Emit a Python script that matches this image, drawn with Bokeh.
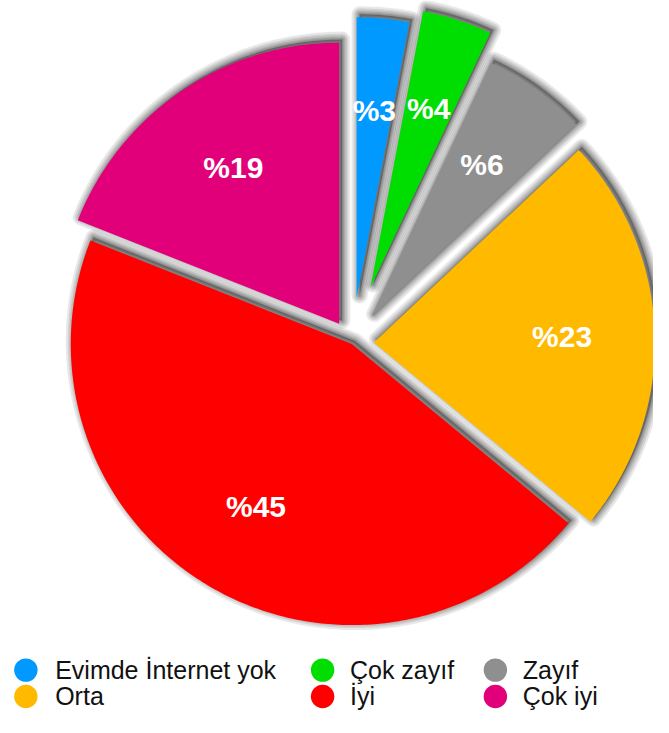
import math
from bokeh.plotting import figure
from bokeh.models import Range1d, ColumnDataSource
from bokeh.embed import file_html
from bokeh.resources import INLINE
from bokeh.core.properties import value

# ---- data ----
categories = ["Evimde İnternet yok", "Çok zayıf", "Zayıf", "Orta", "İyi", "Çok iyi"]
percent = [3, 4, 6, 23, 45, 19]
colors = ["#0099FF", "#00DD00", "#8F8F8F", "#FFBA00", "#FF0000", "#E2007A"]

# ---- style ----
W, H = 653, 717
S = min(W / 669.0, H / 733.0)          # layout scale
explode = [e * S for e in [46, 60, 33, 22, 1, 24]]   # pull-out distance (px)
CX, CY = 360.5 * S, 351.0 * S
R = 288.0 * S
LABEL_R = 193.0 * S
FONT = "Liberation Sans"

p = figure(width=W, height=H, x_range=Range1d(0, W), y_range=Range1d(H, 0),
           output_backend="svg", toolbar_location=None, min_border=0)
p.axis.visible = False
p.grid.visible = False
p.outline_line_color = None
p.background_fill_color = "white"
p.border_fill_color = "white"

total = float(sum(percent))
xs, ys, sxs, sys_, lx, ly, ltxt = [], [], [], [], [], [], []
cum = 0.0
SH_DX, SH_DY = 3.0, -3.0
for v, e in zip(percent, explode):
    a0 = cum / total * 2 * math.pi
    a1 = (cum + v) / total * 2 * math.pi
    cum += v
    mid = (a0 + a1) / 2
    ax = CX + e * math.sin(mid)
    ay = CY - e * math.cos(mid)
    n = max(8, int((a1 - a0) * 80))
    px = [ax]
    py = [ay]
    for i in range(n + 1):
        t = a0 + (a1 - a0) * i / n
        px.append(ax + R * math.sin(t))
        py.append(ay - R * math.cos(t))
    xs.append(px)
    ys.append(py)
    sxs.append([q + SH_DX for q in px])
    sys_.append([q + SH_DY for q in py])
    lx.append(ax + LABEL_R * math.sin(mid))
    ly.append(ay - LABEL_R * math.cos(mid))
    ltxt.append("%" + str(v))

# soft drop shadows
p.patches(sxs, sys_, fill_color="black", fill_alpha=0.3, line_color=None)
for w in [16, 12, 9, 6, 4, 2]:
    p.patches(sxs, sys_, fill_color="black", fill_alpha=0.0,
              line_color="black", line_alpha=0.09, line_width=w, line_join="round")

src = ColumnDataSource(dict(xs=xs, ys=ys, color=colors))
p.patches("xs", "ys", source=src, fill_color="color", line_color=None)

lsrc = ColumnDataSource(dict(x=lx, y=ly, t=ltxt))
p.text("x", "y", text="t", source=lsrc, text_color="white",
       text_font=value(FONT), text_font_style="bold",
       text_font_size="%dpx" % round(31 * S),
       text_align="center", text_baseline="middle")

# legend (3 columns, 2 rows)
col_dot_x = [26 * S, 330 * S, 507 * S]
col_txt_x = [56 * S, 358 * S, 535 * S]
row_y = [686 * S, 713 * S]
dx, dy, tx = [], [], []
for i, c in enumerate(categories):
    r, k = divmod(i, 3)
    dx.append(col_dot_x[k])
    dy.append(row_y[r])
    tx.append(col_txt_x[k])
leg = ColumnDataSource(dict(dx=dx, dy=dy, tx=tx, name=categories, color=colors))
p.scatter("dx", "dy", source=leg, marker="circle", size=24 * S, fill_color="color", line_color=None)
p.text("tx", "dy", text="name", source=leg, text_color="#111111",
       text_font=value(FONT), text_font_size="%dpx" % round(26 * S),
       text_align="left", text_baseline="middle")

open("out.html", "w").write(file_html(p, INLINE))
